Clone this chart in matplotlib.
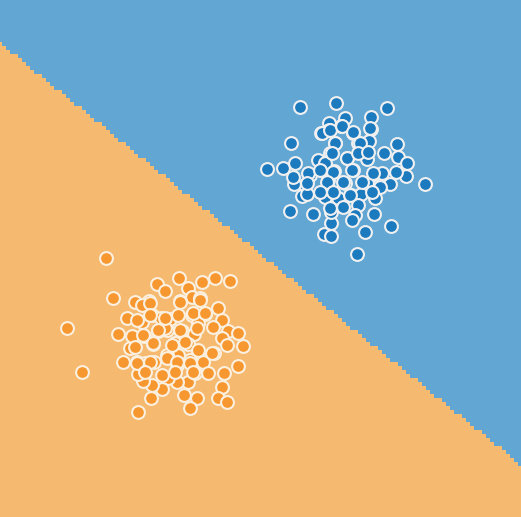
import numpy as np
import matplotlib.pyplot as plt
from matplotlib.colors import ListedColormap

# coordenadas (pixeles, y hacia abajo)
azul_x = [300, 336, 387, 291, 267, 283, 295, 425, 290, 313, 324, 331, 331, 331, 365, 391, 357,
          371, 371, 345, 341, 329, 321, 329, 353, 369, 397, 384, 398, 407, 406, 396, 390, 380,
          374, 367, 358, 347, 335, 330, 353, 334, 318, 310, 305, 294, 293, 302, 307, 325, 338,
          351, 361, 375, 374, 358, 345, 328, 330, 343, 355, 352, 367, 382,
          322, 330, 342, 353, 370, 360, 335, 325, 332, 347, 358, 368, 308, 320, 333, 352, 373,
          307, 327, 343, 362, 320, 333, 350, 372]
azul_y = [107, 103, 108, 143, 169, 168, 163, 184, 211, 214, 234, 236, 223, 212, 232, 226, 254,
          117, 129, 118, 126, 123, 133, 130, 133, 141, 144, 153, 157, 163, 176, 172, 184, 187,
          174, 159, 143, 158, 143, 153, 170, 171, 160, 175, 185, 184, 177, 196, 194, 197, 198,
          195, 194, 198, 214, 205, 183, 180, 208, 207, 215, 220, 183, 173,
          133, 130, 126, 132, 128, 143, 143, 163, 153, 158, 153, 152, 173, 170, 172, 170, 173,
          183, 182, 182, 182, 192, 192, 195, 192]

naranja_x = [106, 113, 67, 82, 138, 151, 118, 127, 135, 149, 157, 165, 179, 188, 202, 215, 230,
             192, 200, 180, 218, 205, 222, 228, 238, 243, 222, 227, 214, 238, 224, 222, 218, 227,
             197, 190, 184, 188, 177, 168, 162, 152, 143, 138, 123, 137, 145, 154, 130, 132, 144,
             153, 142, 152, 161, 170, 182, 192, 198, 194, 167, 158, 175, 188, 198, 178, 167, 177,
             190, 203, 195, 208, 142, 165,
             150, 180, 200, 137, 150, 165, 178, 193, 205, 143, 158, 180, 197, 213, 153, 172, 185,
             198, 212, 135, 137, 150, 167, 177, 190, 145, 162, 175, 193]
naranja_y = [258, 298, 328, 372, 412, 398, 334, 318, 302, 301, 284, 291, 278, 288, 282, 278, 281,
             297, 298, 301, 308, 314, 320, 331, 333, 346, 338, 345, 353, 366, 373, 387, 398, 402,
             398, 408, 395, 382, 382, 378, 389, 385, 381, 374, 362, 362, 363, 362, 348, 336, 336,
             344, 322, 315, 318, 319, 331, 315, 323, 334, 330, 331, 343, 344, 352, 355, 355, 365,
             360, 362, 373, 373, 305, 328,
             303, 302, 300, 320, 315, 318, 315, 313, 313, 335, 330, 330, 328, 327, 343, 345, 342,
             350, 353, 347, 363, 362, 358, 362, 363, 372, 375, 372, 372]

# frontera de decision (extremos izquierdo y derecho)
frontera_x = [0, 521]
frontera_y = [43, 465]

ancho, alto = 521, 517
paso = 4

xx, yy = np.meshgrid(np.arange(0, ancho + paso, paso), np.arange(0, alto + paso, paso))
pend = (frontera_y[1] - frontera_y[0]) / (frontera_x[1] - frontera_x[0])
clase = (yy > frontera_y[0] + pend * (xx - frontera_x[0])).astype(int)

fig = plt.figure(figsize=(5.21, 5.17), dpi=100)
ax = fig.add_axes([0, 0, 1, 1])
ax.pcolormesh(xx, yy, clase, cmap=ListedColormap(["#62a6d3", "#f5b970"]),
              shading="nearest", antialiased=False)
ax.scatter(azul_x, azul_y, s=85, c="#1c7abf", edgecolors="#f0f0f0", linewidths=1.5, zorder=3)
ax.scatter(naranja_x, naranja_y, s=85, c="#f6982f", edgecolors="#fbf0e0", linewidths=1.5, zorder=3)
ax.set_xlim(0, ancho)
ax.set_ylim(alto, 0)
ax.axis("off")
fig.savefig("out.png", dpi=100)
